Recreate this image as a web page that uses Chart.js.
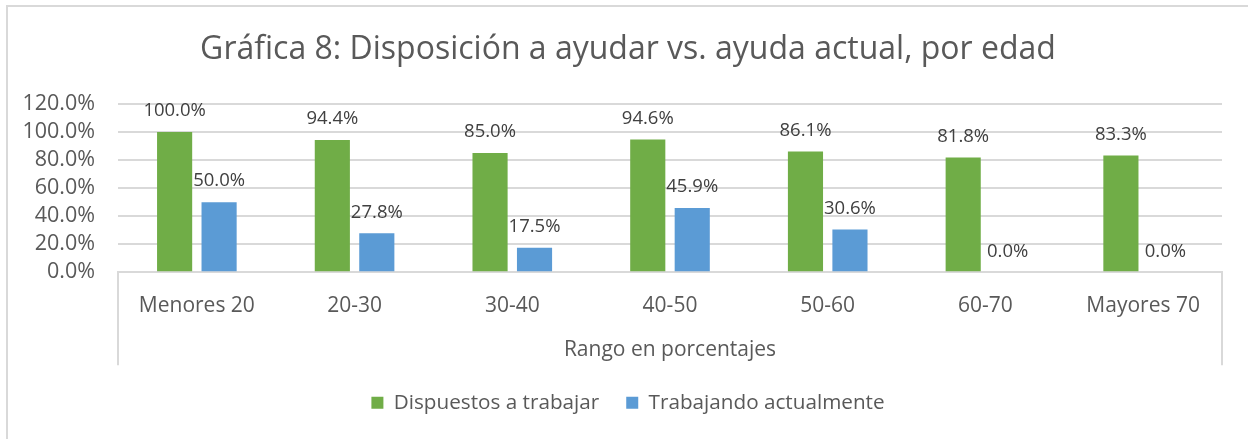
<!DOCTYPE html>
<html>
<head>
<meta charset="utf-8">
<script src="https://cdn.jsdelivr.net/npm/chart.js@4.4.1/dist/chart.umd.min.js"></script>
<style>
    body { margin: 0; background: #fff; overflow: hidden; }
    #myChart { position: absolute; left: 0; top: 0; }
    #marco {
        position: absolute; left: 6px; top: 5px; width: 1300px; height: 500px;
        border-left: 2px solid #d9d9d9; border-top: 2px solid #d9d9d9;
        pointer-events: none;
    }
</style>
</head>
<body>
<canvas id="myChart" width="1248" height="439"></canvas>
<div id="marco"></div>
<script>
// datos
const categorias = ["Menores 20", "20-30", "30-40", "40-50", "50-60", "60-70", "Mayores 70"];
const dispuestos = [100.0, 94.4, 85.0, 94.6, 86.1, 81.8, 83.3];
const trabajando = [50.0, 27.8, 17.5, 45.9, 30.6, 0.0, 0.0];
const series = ["Dispuestos a trabajar", "Trabajando actualmente"];
const titulo = "Gráfica 8: Disposición a ayudar vs. ayuda actual, por edad";
const tituloEje = "Rango en porcentajes";

const fuente = '"Open Sans", sans-serif';

// etiquetas encima de cada barra
const etiquetasBarras = {
    id: 'etiquetasBarras',
    afterDatasetsDraw(chart) {
        const ctx = chart.ctx;
        ctx.save();
        ctx.font = '18.5px ' + fuente;
        ctx.fillStyle = '#404040';
        ctx.textAlign = 'center';
        ctx.textBaseline = 'middle';
        chart.data.datasets.forEach((ds, i) => {
            chart.getDatasetMeta(i).data.forEach((bar, j) => {
                ctx.fillText(ds.data[j].toFixed(1) + '%', bar.x, bar.y - 21);
            });
        });
        ctx.restore();
    }
};

// lineas verticales de la caja del eje x
const cajaEje = {
    id: 'cajaEje',
    afterDraw(chart) {
        const ctx = chart.ctx;
        const area = chart.chartArea;
        const ejeX = chart.scales.x;
        ctx.save();
        ctx.strokeStyle = '#d9d9d9';
        ctx.lineWidth = 2;
        ctx.beginPath();
        ctx.moveTo(area.left, area.bottom);
        ctx.lineTo(area.left, ejeX.bottom);
        ctx.moveTo(area.right, area.bottom);
        ctx.lineTo(area.right, ejeX.bottom);
        ctx.stroke();
        ctx.restore();
    }
};

// el titulo y la leyenda van centrados en todo el marco, no solo en el area
const centrarCajas = {
    id: 'centrarCajas',
    afterLayout(chart) {
        chart.titleBlock.left += 34;
        chart.legend.left += 34;
    }
};

let myChart = null;
const ctx = document.getElementById('myChart');

myChart = new Chart(ctx, {
    type: 'bar',
    data: {
        labels: categorias,
        datasets: [{
            label: series[0],
            data: dispuestos,
            backgroundColor: '#70AD47',
            categoryPercentage: 0.564,
            barPercentage: 0.79
        }, {
            label: series[1],
            data: trabajando,
            backgroundColor: '#5B9BD5',
            categoryPercentage: 0.564,
            barPercentage: 0.79
        }]
    },
    options: {
        responsive: false,
        animation: false,
        layout: {
            padding: { left: 0, right: 26, top: 0, bottom: 16 }
        },
        plugins: {
            title: {
                display: true,
                text: titulo,
                color: '#595959',
                font: { family: fuente, size: 32, weight: 'normal' },
                padding: { top: 31, bottom: 34.6 }
            },
            legend: {
                position: 'bottom',
                labels: {
                    boxWidth: 12,
                    boxHeight: 12,
                    padding: 27,
                    color: '#595959',
                    font: { family: fuente, size: 20.7 }
                }
            },
            tooltip: { enabled: false }
        },
        scales: {
            y: {
                min: 0,
                max: 120,
                ticks: {
                    stepSize: 20,
                    autoSkip: false,
                    padding: 23,
                    color: '#595959',
                    font: { family: fuente, size: 21.5 },
                    callback: (v) => v.toFixed(1) + '%'
                },
                grid: { color: '#d9d9d9', lineWidth: 2, drawTicks: false },
                border: { display: false },
                afterFit: (scale) => { scale.width = 118; }
            },
            x: {
                ticks: {
                    padding: 21,
                    color: '#595959',
                    font: { family: fuente, size: 21 }
                },
                grid: { display: false, drawTicks: false },
                border: { display: true, color: '#d9d9d9', width: 2 },
                title: {
                    display: true,
                    text: tituloEje,
                    color: '#595959',
                    font: { family: fuente, size: 21 },
                    padding: { top: 0, bottom: 3 }
                },
                afterFit: (scale) => { scale.height = 93; }
            }
        }
    },
    plugins: [etiquetasBarras, cajaEje, centrarCajas]
});
</script>
</body>
</html>
